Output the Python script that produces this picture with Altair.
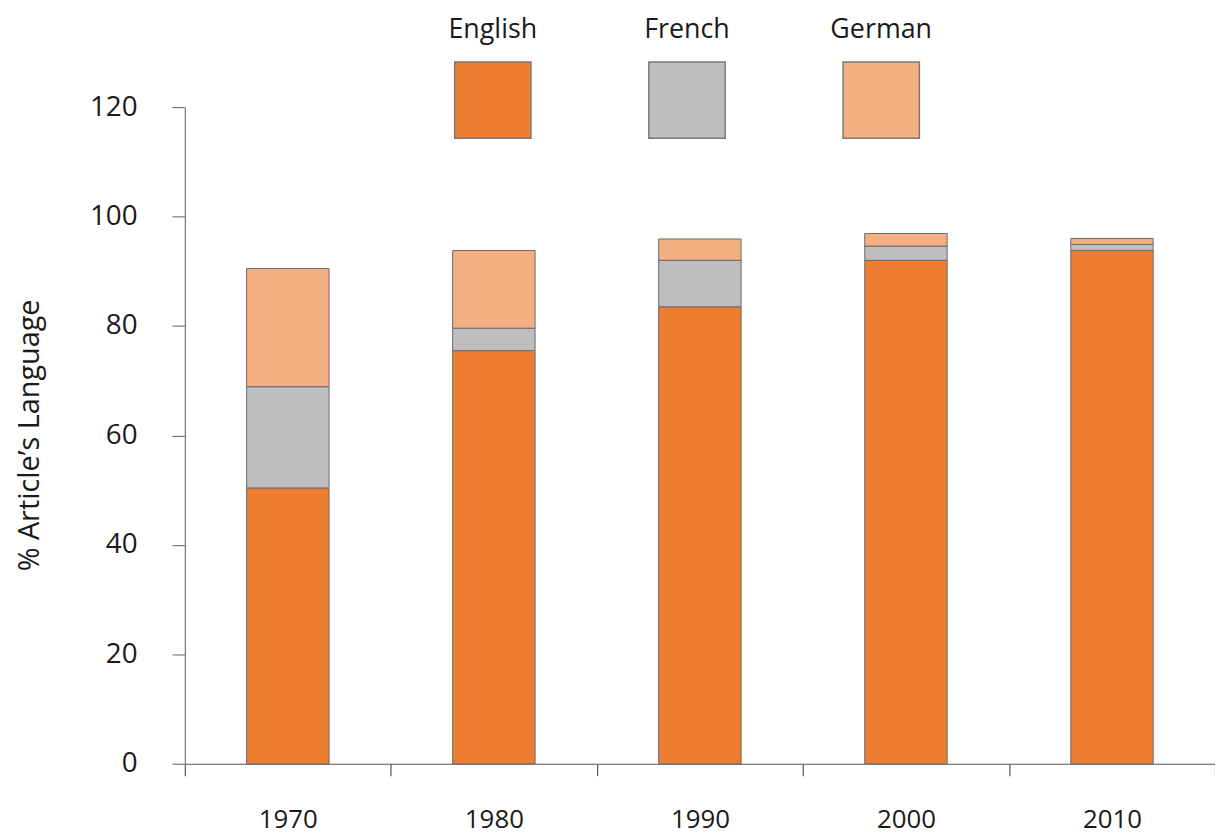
import altair as alt
import pandas as pd

years = ["1970", "1980", "1990", "2000", "2010"]
languages = ["English", "French", "German"]
english = [50.4, 75.5, 83.5, 92.0, 93.8]
french = [18.5, 4.1, 8.5, 2.6, 1.1]
german = [21.6, 14.2, 3.9, 2.3, 1.1]
colors = ["#ED7D31", "#BCBEC0", "#F3AF82"]
y_ticks = [0, 20, 40, 60, 80, 100, 120]

rows = []
for i, y in enumerate(years):
    for k, (lang, series) in enumerate(zip(languages, [english, french, german])):
        rows.append({"year": y, "language": lang, "value": series[i], "order": k})
df = pd.DataFrame(rows)
legend_df = pd.DataFrame({"language": languages})

FONT = "Open Sans"
color_scale = alt.Scale(domain=languages, range=colors)

bars = alt.Chart(df).mark_bar(
    stroke="#6b6b6b", strokeWidth=1, width=alt.RelativeBandSize(0.4)
).encode(
    x=alt.X("year:N", sort=years, title=None,
            scale=alt.Scale(paddingInner=0, paddingOuter=0),
            axis=alt.Axis(labelAngle=0, tickBand="extent", tickSize=12,
                          labelPadding=31, labelFontSize=26, labelFont=FONT,
                          labelColor="#1a1a1a", domainColor="#555555",
                          tickColor="#555555", domainWidth=1.2, tickWidth=1.2)),
    y=alt.Y("value:Q", stack="zero", title="% Article\u2019s Language",
            scale=alt.Scale(domain=[0, 120], nice=False),
            axis=alt.Axis(values=y_ticks, grid=False, tickSize=13,
                          labelPadding=35, labelFontSize=28, labelFont=FONT,
                          labelColor="#1a1a1a", domainColor="#7a7a7a",
                          tickColor="#7a7a7a", domainWidth=1.2, tickWidth=1.2,
                          titleFont=FONT, titleFontSize=29, titleFontWeight="normal",
                          titleColor="#1a1a1a", titleX=-156, titleY=330,
                          titleAngle=-90, titleBaseline="middle", titleAlign="center")),
    color=alt.Color("language:N", scale=color_scale, legend=None),
    order=alt.Order("order:Q"),
)

legend_x = alt.X("language:N", axis=None,
                 scale=alt.Scale(type="point", domain=languages, range=[310, 701], padding=0))

legend_boxes = alt.Chart(legend_df).mark_square(
    size=5900, opacity=1, stroke="#7a7a7a", strokeWidth=1.5, filled=True
).encode(
    x=legend_x,
    y=alt.value(-7),
    color=alt.Color("language:N", scale=color_scale, legend=None),
)

legend_text = alt.Chart(legend_df).mark_text(
    font=FONT, fontSize=27, color="#1a1a1a", baseline="alphabetic", align="center"
).encode(
    x=legend_x,
    y=alt.value(-70),
    text="language:N",
)

chart = alt.layer(bars, legend_boxes, legend_text).resolve_scale(
    x="independent"
).properties(
    width=1037, height=661,
    background="white",
    autosize=alt.AutoSizeParams(type="none"),
    padding={"left": 178, "top": 97, "right": 0, "bottom": 72},
).configure_view(stroke=None)

chart.save("out.html", embed_options={"renderer": "svg", "actions": False})
